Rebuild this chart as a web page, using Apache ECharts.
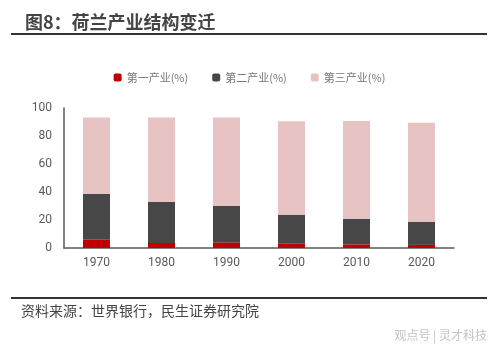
<!DOCTYPE html>
<html>
<head>
<meta charset="utf-8">
<script src="https://cdn.jsdelivr.net/npm/echarts@6/dist/echarts.min.js"></script>
<style>
  html, body { margin: 0; padding: 0; background: #fff; }
  #main { width: 499px; height: 352px; }
</style>
</head>
<body>
<div id="main"></div>
<script>
// 年份
var years = ['1970', '1980', '1990', '2000', '2010', '2020'];
// 第一、二、三产业占比 (%)
var primary = [5.9, 3.6, 4.0, 3.0, 2.6, 2.2];
var secondary = [32.8, 29.3, 26.0, 20.8, 18.3, 16.6];
var tertiary = [54.6, 60.4, 63.3, 66.7, 69.8, 70.7];
// y 轴刻度
var yTicks = [0, 20, 40, 60, 80, 100];

var cjk = '"Noto Sans CJK SC", sans-serif';

var myChart = echarts.init(document.getElementById('main'));
myChart.setOption({
  backgroundColor: '#FFFFFF',
  animation: false,
  title: {
    text: '图8：荷兰产业结构变迁',
    left: 20,
    top: 8,
    textStyle: { fontFamily: cjk, fontSize: 18, fontWeight: 'bold', color: '#444' }
  },
  legend: {
    top: 67,
    left: 'center',
    itemWidth: 8,
    itemHeight: 8,
    itemGap: 24,
    textStyle: { fontFamily: cjk, fontSize: 11, color: '#777' },
    data: ['第一产业(%)', '第二产业(%)', '第三产业(%)']
  },
  grid: { left: 64, right: 45, top: 108, bottom: 104 },
  xAxis: {
    type: 'category',
    data: years,
    axisLine: { lineStyle: { color: '#595959', width: 1.5 } },
    axisTick: { show: false },
    axisLabel: { color: '#595959', fontSize: 12, margin: 9, fontFamily: 'Roboto' }
  },
  yAxis: {
    type: 'value',
    min: yTicks[0],
    max: yTicks[yTicks.length - 1],
    interval: 20,
    axisLine: { show: true, lineStyle: { color: '#595959', width: 1.5 } },
    axisTick: { show: false },
    splitLine: { show: false },
    axisLabel: { color: '#595959', fontSize: 12, margin: 12, fontFamily: 'Roboto' }
  },
  series: [
    { name: '第一产业(%)', type: 'bar', stack: 'a', barWidth: 27, data: primary,
      itemStyle: { color: '#C00000' } },
    { name: '第二产业(%)', type: 'bar', stack: 'a', barWidth: 27, data: secondary,
      itemStyle: { color: '#474747' } },
    { name: '第三产业(%)', type: 'bar', stack: 'a', barWidth: 27, data: tertiary,
      itemStyle: { color: '#E8C3C3' } }
  ],
  graphic: [
    { type: 'rect', shape: { x: 11, y: 33, width: 476, height: 2 }, style: { fill: '#333' } },
    { type: 'rect', shape: { x: 11, y: 297, width: 476, height: 2 }, style: { fill: '#333' } },
    { type: 'text', left: 21, top: 304,
      style: { text: '资料来源：世界银行，民生证券研究院', font: '14px ' + cjk, fill: '#444' } },
    { type: 'text', right: 12, top: 329,
      style: { text: '观点号 | 灵才科技', font: '12px ' + cjk, fill: '#c4c4c4' } }
  ]
});
</script>
</body>
</html>
